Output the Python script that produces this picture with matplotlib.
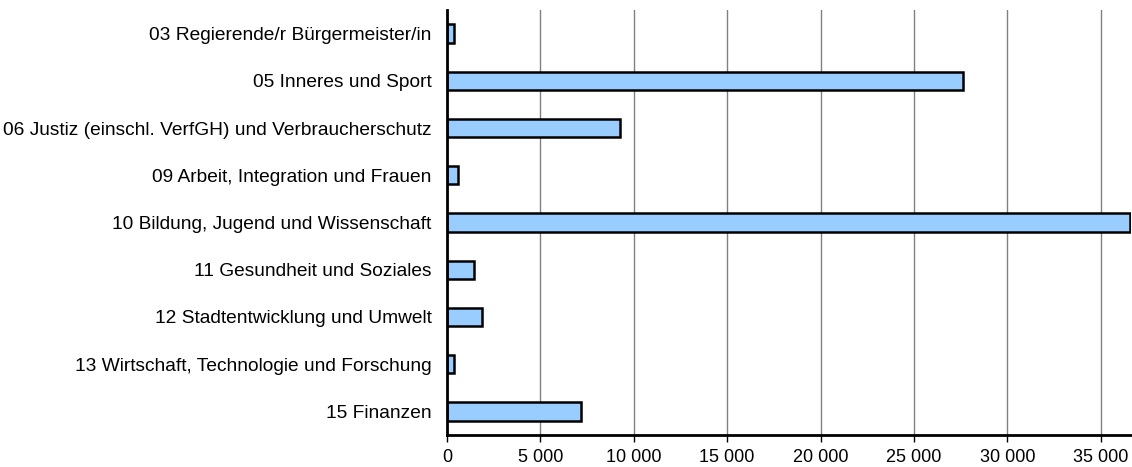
import matplotlib
matplotlib.use("Agg")
import matplotlib.pyplot as plt

categories = [
    "03 Regierende/r Bürgermeister/in",
    "05 Inneres und Sport",
    "06 Justiz (einschl. VerfGH) und Verbraucherschutz",
    "09 Arbeit, Integration und Frauen",
    "10 Bildung, Jugend und Wissenschaft",
    "11 Gesundheit und Soziales",
    "12 Stadtentwicklung und Umwelt",
    "13 Wirtschaft, Technologie und Forschung",
    "15 Finanzen",
]
values = [390, 27650, 9260, 600, 36560, 1450, 1900, 360, 7170]
xticks = [0, 5000, 10000, 15000, 20000, 25000, 30000, 35000]
xtick_labels = ["0", "5 000", "10 000", "15 000", "20 000", "25 000", "30 000", "35 000"]

plt.rcParams["font.family"] = ["Liberation Sans", "DejaVu Sans"]

fig = plt.figure(figsize=(11.32, 4.67), dpi=100)
ax = fig.add_axes([447 / 1132, 32 / 467, 684 / 1132, 425 / 467])

y = list(range(len(categories)))
ax.barh(y, values, height=0.39, color="#99ccff", edgecolor="black", linewidth=1.8, zorder=3)

ax.set_xlim(0, 36620)
ax.set_ylim(len(categories) - 0.5, -0.5)
ax.set_yticks(y)
ax.set_yticklabels(categories, fontsize=13.8)
ax.set_xticks(xticks)
ax.set_xticklabels(xtick_labels, fontsize=13)
ax.tick_params(axis="y", length=0, pad=11)
ax.tick_params(axis="x", length=5, width=1, pad=5)

ax.grid(True, axis="x", color="#808080", linewidth=1, zorder=0)
ax.set_axisbelow(True)
for side in ("top", "right"):
    ax.spines[side].set_visible(False)
for side in ("left", "bottom"):
    ax.spines[side].set_linewidth(2)
    ax.spines[side].set_color("black")
    ax.spines[side].set_zorder(4)

fig.savefig("out.png", dpi=100)
